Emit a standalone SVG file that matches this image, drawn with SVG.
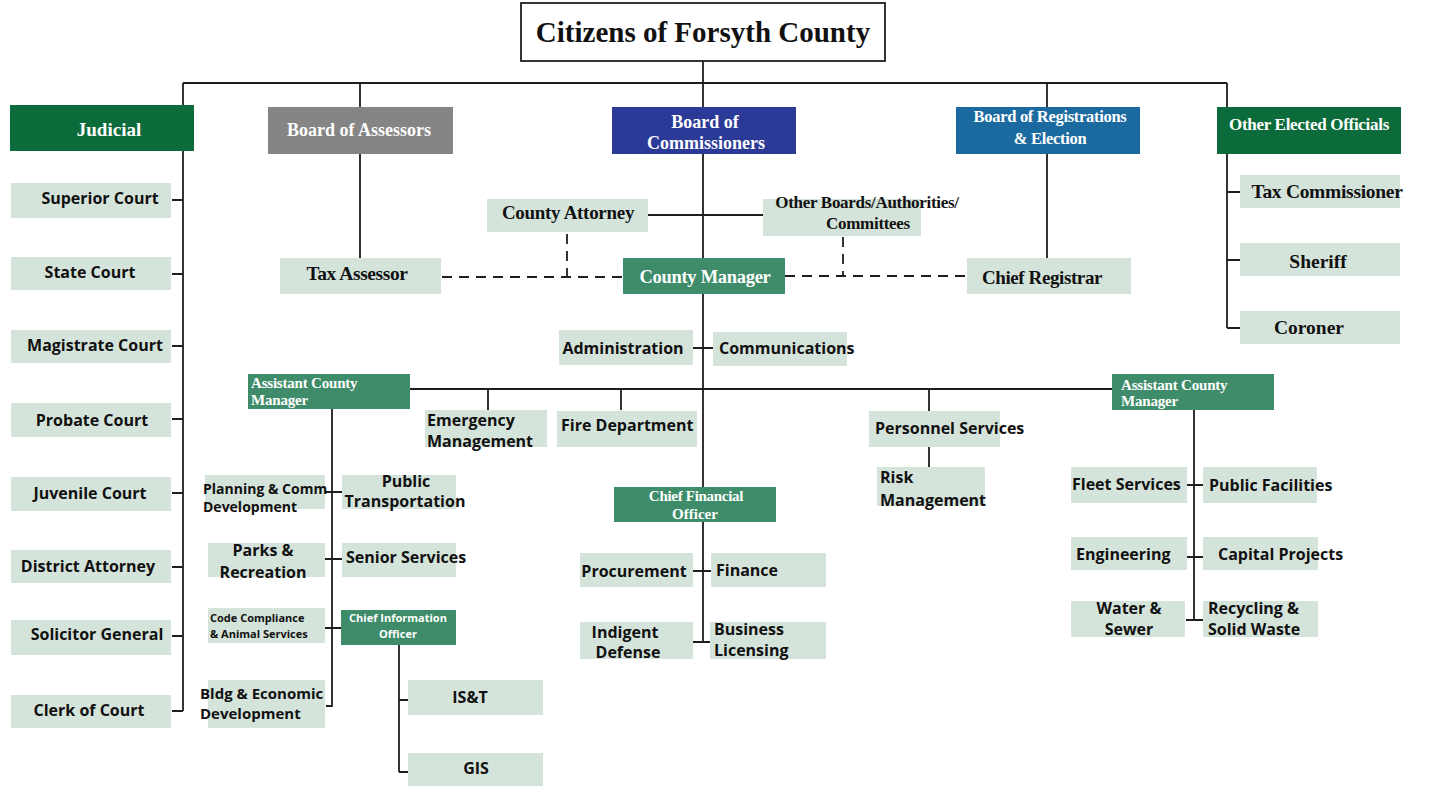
<svg xmlns="http://www.w3.org/2000/svg" width="1432" height="786" viewBox="0 0 1432 786">
<style>
.lb{fill:#d5e4db}
.dg{fill:#0b6b3b}
.mg{fill:#3e8c69}
.ln{stroke:#1e1e1e;stroke-width:1.8;fill:none}
.ds{stroke:#1e1e1e;stroke-width:1.8;fill:none;stroke-dasharray:10 7}
.s{font-family:"Open Sans","Liberation Sans",sans-serif;font-weight:700;font-size:16px;fill:#111}
.sr{font-family:"Liberation Serif","DejaVu Serif",serif;font-weight:700;fill:#111}
.w{fill:#fff}
.m{text-anchor:middle}
</style>
<rect width="1432" height="786" fill="#fff"/>
<g id="connectors">
<path class="ln" d="M703 61V258M183 83H1227M183 83V711M172 200H183M172 274H183M172 346H183M172 419H183M172 493H183M172 567H183M172 636H183M172 711H183"/>
<path class="ln" d="M360 83V258M1047 83V258M1227 83V328M1227 192H1240M1227 260H1240M1227 328H1240"/>
<path class="ln" d="M648 215H763"/>
<path class="ds" d="M442 277H623M567 234V277M785 276H966M843 237V276"/>
<path class="ln" d="M703 294V642M693 348H713M410 389H1112M488 389V410M621 389V410M929 389V411M929 447V467M693 571H711M693 642H710"/>
<path class="ln" d="M332 409V706H326M322 492H342M325 559H342M325 628H341"/>
<path class="ln" d="M399 645V772M399 700H408M399 772H408"/>
<path class="ln" d="M1194 410V620M1187 485H1203M1187 557H1203M1186 620H1203"/>
</g>
<g id="citizens"><rect x="521" y="3" width="364" height="58" fill="#fff" stroke="#1e1e1e" stroke-width="1.8"/><text class="sr m" x="703" y="42" font-size="29">Citizens of Forsyth County</text></g>
<g id="judicial"><rect class="dg" x="10" y="105" width="184" height="46"/><text class="sr w m" x="109" y="136" font-size="19">Judicial</text></g>
<g id="board-assessors"><rect x="268" y="107" width="185" height="47" fill="#858585"/><text class="sr w m" x="359" y="136" font-size="18">Board of Assessors</text></g>
<g id="board-commissioners"><rect x="612" y="107" width="184" height="47" fill="#2b3a97"/><text class="sr w m" x="705" y="128" font-size="18">Board of</text><text class="sr w m" x="706" y="149" font-size="18">Commissioners</text></g>
<g id="board-registrations"><rect x="956" y="107" width="184" height="47" fill="#1b6a9f"/><text class="sr w m" x="1050" y="122" font-size="16.5" letter-spacing="-0.3">Board of Registrations</text><text class="sr w m" x="1050" y="144" font-size="16.5" letter-spacing="-0.3">&amp; Election</text></g>
<g id="other-elected"><rect class="dg" x="1217" y="107" width="184" height="47"/><text class="sr w m" x="1309" y="130" font-size="17" letter-spacing="-0.3">Other Elected Officials</text></g>

<g id="superior-court"><rect class="lb" x="11" y="183" width="160" height="35"/><text class="s m" x="100" y="204">Superior Court</text></g>
<g id="state-court"><rect class="lb" x="11" y="257" width="160" height="33"/><text class="s m" x="90" y="278">State Court</text></g>
<g id="magistrate-court"><rect class="lb" x="11" y="330" width="160" height="33"/><text class="s m" x="95" y="351">Magistrate Court</text></g>
<g id="probate-court"><rect class="lb" x="11" y="403" width="160" height="34"/><text class="s m" x="92" y="426">Probate Court</text></g>
<g id="juvenile-court"><rect class="lb" x="11" y="477" width="160" height="34"/><text class="s m" x="90" y="499">Juvenile Court</text></g>
<g id="district-attorney"><rect class="lb" x="11" y="550" width="160" height="33"/><text class="s m" x="88" y="572">District Attorney</text></g>
<g id="solicitor-general"><rect class="lb" x="11" y="620" width="160" height="35"/><text class="s m" x="97" y="640">Solicitor General</text></g>
<g id="clerk-of-court"><rect class="lb" x="11" y="695" width="160" height="33"/><text class="s m" x="89" y="716">Clerk of Court</text></g>

<g id="tax-assessor"><rect class="lb" x="280" y="258" width="161" height="36"/><text class="sr m" x="357" y="280" font-size="19.5" letter-spacing="-0.4">Tax Assessor</text></g>
<g id="county-attorney"><rect class="lb" x="487" y="199" width="161" height="33"/><text class="sr m" x="568" y="219" font-size="19" letter-spacing="-0.3">County Attorney</text></g>
<g id="other-boards"><rect class="lb" x="763" y="199" width="158" height="37"/><text class="sr m" x="867" y="208" font-size="17" letter-spacing="-0.3">Other Boards/Authorities/</text><text class="sr m" x="868" y="229" font-size="17" letter-spacing="-0.3">Committees</text></g>
<g id="county-manager"><rect class="mg" x="623" y="258" width="162" height="36"/><text class="sr w m" x="705" y="283" font-size="18.5" letter-spacing="-0.3">County Manager</text></g>
<g id="chief-registrar"><rect class="lb" x="967" y="258" width="164" height="36"/><text class="sr m" x="1042" y="284" font-size="19" letter-spacing="-0.4">Chief Registrar</text></g>
<g id="tax-commissioner"><rect class="lb" x="1240" y="175" width="160" height="33"/><text class="sr m" x="1327" y="198" font-size="19.5" letter-spacing="-0.3">Tax Commissioner</text></g>
<g id="sheriff"><rect class="lb" x="1240" y="243" width="160" height="33"/><text class="sr m" x="1318" y="268" font-size="19.5">Sheriff</text></g>
<g id="coroner"><rect class="lb" x="1240" y="311" width="160" height="33"/><text class="sr m" x="1309" y="334" font-size="19.5">Coroner</text></g>

<g id="administration"><rect class="lb" x="559" y="330" width="134" height="35"/><text class="s m" x="623" y="354">Administration</text></g>
<g id="communications"><rect class="lb" x="713" y="332" width="134" height="34"/><text class="s" x="719" y="354">Communications</text></g>

<g id="acm-left"><rect class="mg" x="248" y="374" width="162" height="35"/><text class="sr w" x="251" y="388" font-size="15" letter-spacing="-0.2">Assistant  County</text><text class="sr w" x="251" y="405" font-size="15" letter-spacing="-0.2">Manager</text></g>
<g id="emergency-management"><rect class="lb" x="425" y="410" width="122" height="37"/><text class="s" x="427" y="426">Emergency</text><text class="s" x="427" y="447">Management</text></g>
<g id="fire-department"><rect class="lb" x="557" y="411" width="140" height="36"/><text class="s" x="561" y="431">Fire Department</text></g>
<g id="personnel-services"><rect class="lb" x="869" y="411" width="131" height="36"/><text class="s" x="875" y="434">Personnel Services</text></g>
<g id="risk-management"><rect class="lb" x="877" y="467" width="108" height="39"/><text class="s" x="880" y="483">Risk</text><text class="s" x="880" y="506">Management</text></g>
<g id="acm-right"><rect class="mg" x="1112" y="374" width="162" height="36"/><text class="sr w" x="1121" y="390" font-size="15" letter-spacing="-0.2">Assistant County</text><text class="sr w" x="1121" y="406" font-size="15" letter-spacing="-0.2">Manager</text></g>

<g id="cfo"><rect class="mg" x="614" y="487" width="162" height="35"/><text class="sr w m" x="696" y="501" font-size="15" letter-spacing="-0.3">Chief Financial</text><text class="sr w m" x="695" y="519" font-size="15">Officer</text></g>
<g id="procurement"><rect class="lb" x="580" y="553" width="113" height="34"/><text class="s m" x="634" y="577">Procurement</text></g>
<g id="finance"><rect class="lb" x="711" y="553" width="115" height="34"/><text class="s" x="716" y="576">Finance</text></g>
<g id="indigent-defense"><rect class="lb" x="580" y="622" width="113" height="37"/><text class="s m" x="625" y="638">Indigent</text><text class="s m" x="628" y="658">Defense</text></g>
<g id="business-licensing"><rect class="lb" x="710" y="622" width="116" height="37"/><text class="s" x="714" y="635">Business</text><text class="s" x="714" y="656">Licensing</text></g>

<g id="planning"><rect class="lb" x="205" y="475" width="120" height="34"/><text class="s" x="203" y="494" style="font-size:14px">Planning &amp; Comm</text><text class="s" x="203" y="512" style="font-size:14px">Development</text></g>
<g id="public-transportation"><rect class="lb" x="342" y="475" width="114" height="34"/><text class="s m" x="406" y="487">Public</text><text class="s m" x="405" y="507">Transportation</text></g>
<g id="parks-recreation"><rect class="lb" x="208" y="543" width="117" height="34"/><text class="s m" x="263" y="556">Parks &amp;</text><text class="s m" x="263" y="578">Recreation</text></g>
<g id="senior-services"><rect class="lb" x="342" y="543" width="114" height="34"/><text class="s" x="346" y="563">Senior Services</text></g>
<g id="code-compliance"><rect class="lb" x="208" y="608" width="117" height="35"/><text class="s" x="210" y="622" style="font-size:11px">Code Compliance</text><text class="s" x="210" y="638" style="font-size:11px">&amp; Animal Services</text></g>
<g id="cio"><rect class="mg" x="341" y="610" width="115" height="35"/><text class="s w m" x="398" y="622" style="font-size:11px">Chief Information</text><text class="s w m" x="398" y="638" style="font-size:11px">Officer</text></g>
<g id="bldg-economic"><rect class="lb" x="208" y="680" width="117" height="48"/><text class="s" x="200" y="699" style="font-size:15px">Bldg &amp; Economic</text><text class="s" x="200" y="719" style="font-size:15px">Development</text></g>
<g id="ist"><rect class="lb" x="408" y="680" width="135" height="35"/><text class="s m" x="470" y="703">IS&amp;T</text></g>
<g id="gis"><rect class="lb" x="408" y="753" width="135" height="33"/><text class="s m" x="476" y="774">GIS</text></g>

<g id="fleet-services"><rect class="lb" x="1071" y="467" width="116" height="36"/><text class="s" x="1072" y="490">Fleet Services</text></g>
<g id="public-facilities"><rect class="lb" x="1203" y="467" width="114" height="36"/><text class="s" x="1209" y="491">Public Facilities</text></g>
<g id="engineering"><rect class="lb" x="1071" y="537" width="116" height="33"/><text class="s" x="1076" y="560">Engineering</text></g>
<g id="capital-projects"><rect class="lb" x="1203" y="537" width="115" height="33"/><text class="s" x="1218" y="560">Capital Projects</text></g>
<g id="water-sewer"><rect class="lb" x="1071" y="601" width="114" height="36"/><text class="s m" x="1129" y="614">Water &amp;</text><text class="s m" x="1129" y="635">Sewer</text></g>
<g id="recycling"><rect class="lb" x="1203" y="601" width="115" height="36"/><text class="s" x="1208" y="614">Recycling &amp;</text><text class="s" x="1208" y="635">Solid Waste</text></g>
</svg>
